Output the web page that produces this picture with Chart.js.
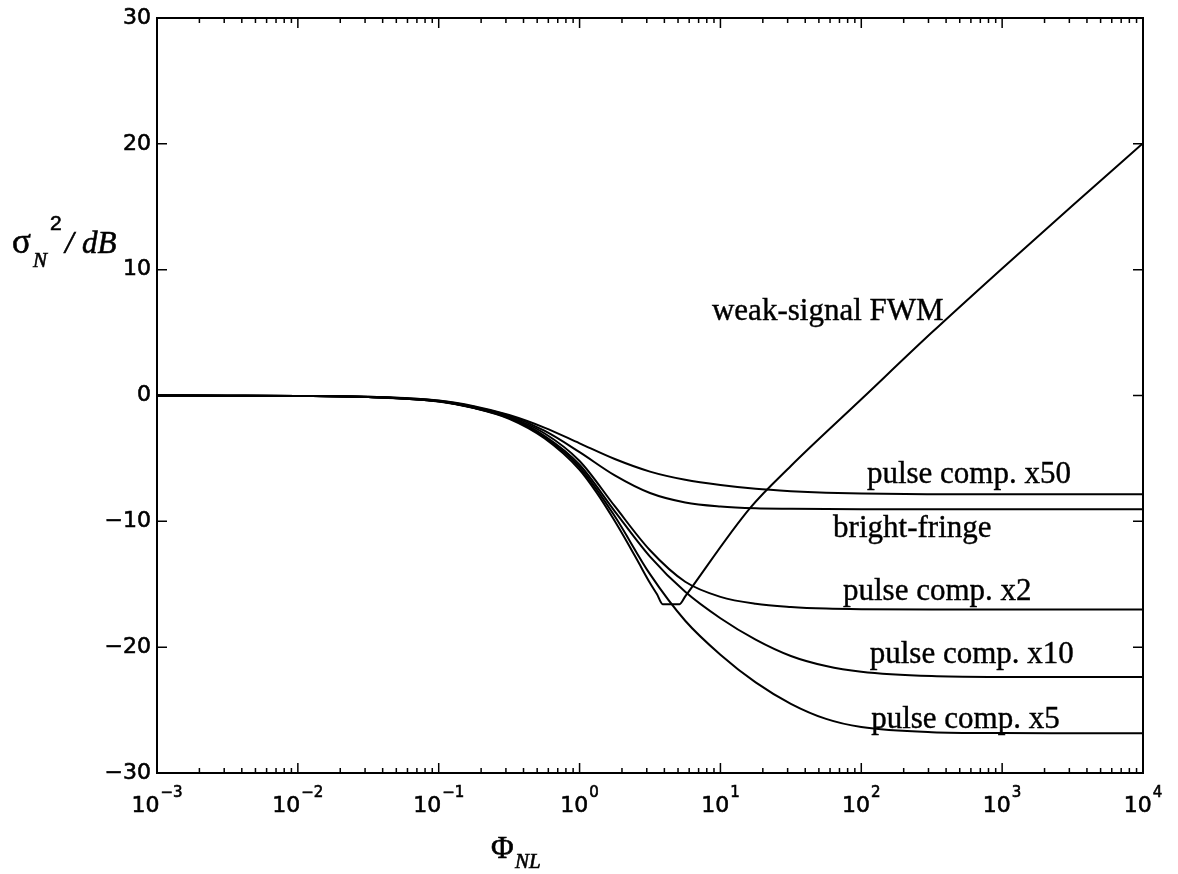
<!DOCTYPE html>
<html>
<head>
<meta charset="utf-8">
<script src="https://cdn.jsdelivr.net/npm/chart.js@4/dist/chart.umd.min.js"></script>
<style>
  html, body { margin: 0; padding: 0; background: #fff; }
  canvas { display: block; }
</style>
</head>
<body>
<canvas id="noiseChart" width="1178" height="874"></canvas>
<script>
const logPhi = [-3, -2.5, -2, -1.5, -1, -0.75, -0.5, -0.25, 0, 0.25, 0.5, 0.75, 1, 1.25, 1.5, 1.75, 2, 2.5, 3, 3.5, 4];

// sigma_N^2 in dB
const pulseCompX50 = [0, -0.01, -0.03, -0.1, -0.4, -0.85, -1.55, -2.55, -3.8, -5.05, -6.05, -6.7, -7.12, -7.42, -7.6, -7.72, -7.79, -7.84, -7.85, -7.85, -7.85];
const brightFringe = [0, -0.01, -0.03, -0.1, -0.42, -0.9, -1.6, -2.8, -4.5, -6.35, -7.75, -8.5, -8.82, -8.96, -9.0, -9.02, -9.03, -9.03, -9.03, -9.03, -9.03];
const pulseCompX2 = [0, -0.01, -0.03, -0.12, -0.45, -0.95, -1.7, -3.0, -5.2, -8.8, -12.3, -14.8, -16.0, -16.55, -16.8, -16.93, -16.98, -17.0, -17.0, -17.0, -17.0];
const pulseCompX10 = [0, -0.01, -0.03, -0.12, -0.45, -0.97, -1.75, -3.2, -5.5, -9.2, -12.8, -15.6, -17.7, -19.4, -20.7, -21.5, -21.95, -22.3, -22.37, -22.38, -22.38];
const pulseCompX5 = [0, -0.01, -0.03, -0.12, -0.46, -0.98, -1.8, -3.3, -5.7, -9.6, -14.2, -17.9, -20.6, -22.8, -24.5, -25.7, -26.35, -26.76, -26.83, -26.84, -26.84];

// weak-signal FWM: own sampling, flat bottom near Phi = 4..5
const fwmLogPhi = [-3, -2.5, -2, -1.5, -1, -0.75, -0.5, -0.25, 0, 0.12, 0.24, 0.34, 0.42, 0.5, 0.55, 0.59, 0.71, 0.75, 1.21, 1.5, 2, 2.5, 3, 3.5, 4];
const weakSignalFwm = [0, -0.01, -0.03, -0.12, -0.47, -1.0, -1.85, -3.4, -5.9, -7.7, -9.8, -11.7, -13.3, -14.9, -15.8, -16.58, -16.58, -15.97, -8.95, -5.6, -0.3, 5.0, 10.1, 15.1, 20.05];

// axis ticks
const xTickExponents = [-3, -2, -1, 0, 1, 2, 3, 4];
const yTicks = [30, 20, 10, 0, -10, -20, -30];

// curve labels: text, left edge at log10(Phi), baseline at dB
const curveLabels = [
  { text: 'weak-signal FWM', logX: 0.94, y: 6.0 },
  { text: 'pulse comp. x50', logX: 2.04, y: -6.96 },
  { text: 'bright-fringe', logX: 1.80, y: -11.26 },
  { text: 'pulse comp. x2', logX: 1.87, y: -16.26 },
  { text: 'pulse comp. x10', logX: 2.06, y: -21.27 },
  { text: 'pulse comp. x5', logX: 2.07, y: -26.44 }
];

const toPoints = (xs, ys) => xs.map((lx, i) => ({ x: Math.pow(10, lx), y: ys[i] }));

const curve = (label, xs, values) => ({
  label,
  data: toPoints(xs, values),
  borderColor: '#000',
  borderWidth: 2,
  pointRadius: 0,
  fill: false,
  cubicInterpolationMode: 'monotone'
});

const fmtExp = (n) => String(n).replace('-', '\u2212');

// filled text with a thin outline, to get the heavier print look
const heavyText = (ctx, text, px, py) => {
  ctx.fillText(text, px, py);
  ctx.strokeText(text, px, py);
};

/**
 * Boxed axes with inward ticks and the hand-set labels
 */
const matlabFrame = {
  id: 'matlabFrame',
  afterDraw(chart) {
    const { ctx, chartArea: a, scales: { x, y } } = chart;
    ctx.save();
    ctx.strokeStyle = '#000';
    ctx.fillStyle = '#000';

    // box
    ctx.lineWidth = 2;
    ctx.strokeRect(a.left, a.top, a.right - a.left, a.bottom - a.top);

    // x ticks, major and minor, top and bottom
    ctx.lineWidth = 1.5;
    ctx.beginPath();
    xTickExponents.forEach(e => {
      const px = x.getPixelForValue(Math.pow(10, e));
      ctx.moveTo(px, a.bottom); ctx.lineTo(px, a.bottom - 10);
      ctx.moveTo(px, a.top); ctx.lineTo(px, a.top + 10);
      if (e < 4) {
        for (let m = 2; m <= 9; m++) {
          const pm = x.getPixelForValue(m * Math.pow(10, e));
          ctx.moveTo(pm, a.bottom); ctx.lineTo(pm, a.bottom - 5);
          ctx.moveTo(pm, a.top); ctx.lineTo(pm, a.top + 5);
        }
      }
    });
    // y ticks, left and right
    yTicks.forEach(v => {
      const py = y.getPixelForValue(v);
      ctx.moveTo(a.left, py); ctx.lineTo(a.left + 10, py);
      ctx.moveTo(a.right, py); ctx.lineTo(a.right - 10, py);
    });
    ctx.stroke();

    ctx.lineWidth = 0.6;

    // y tick labels
    ctx.font = '22px "DejaVu Sans"';
    ctx.textAlign = 'right';
    ctx.textBaseline = 'middle';
    yTicks.forEach(v => {
      heavyText(ctx, fmtExp(v), a.left - 6, y.getPixelForValue(v));
    });

    // x tick labels: 10 with superscript exponent
    ctx.textAlign = 'left';
    ctx.textBaseline = 'alphabetic';
    xTickExponents.forEach(e => {
      const px = x.getPixelForValue(Math.pow(10, e));
      ctx.font = '22px "DejaVu Sans"';
      const wBase = ctx.measureText('10').width;
      ctx.font = '15px "DejaVu Sans"';
      const wExp = ctx.measureText(fmtExp(e)).width;
      const start = px - (wBase + wExp + 1) / 2;
      ctx.font = '22px "DejaVu Sans"';
      heavyText(ctx, '10', start, a.bottom + 39);
      ctx.font = '15px "DejaVu Sans"';
      heavyText(ctx, fmtExp(e), start + wBase + 1, a.bottom + 24);
    });

    // y axis title: sigma_N^2 / dB
    ctx.font = '35px "Liberation Serif"';
    heavyText(ctx, '\u03C3', 12, 253);
    ctx.font = 'italic 21px "Liberation Serif"';
    heavyText(ctx, 'N', 33, 267);
    ctx.font = '21px "Liberation Sans"';
    heavyText(ctx, '2', 50, 230);
    ctx.font = 'italic 31px "Liberation Serif"';
    heavyText(ctx, '/', 65, 253);
    heavyText(ctx, 'dB', 82, 253);

    // x axis title: Phi_NL
    ctx.font = '31px "Liberation Serif"';
    heavyText(ctx, '\u03A6', 491, 858);
    ctx.font = 'italic 21px "Liberation Serif"';
    heavyText(ctx, 'NL', 515, 868);

    // curve labels
    ctx.font = '31px "Liberation Serif"';
    ctx.lineWidth = 0.4;
    curveLabels.forEach(l => {
      heavyText(ctx, l.text, x.getPixelForValue(Math.pow(10, l.logX)), y.getPixelForValue(l.y));
    });

    ctx.restore();
  }
};

const ctx = document.getElementById('noiseChart').getContext('2d');

new Chart(ctx, {
  type: 'line',
  data: {
    datasets: [
      curve('pulse comp. x50', logPhi, pulseCompX50),
      curve('bright-fringe', logPhi, brightFringe),
      curve('pulse comp. x2', logPhi, pulseCompX2),
      curve('pulse comp. x10', logPhi, pulseCompX10),
      curve('pulse comp. x5', logPhi, pulseCompX5),
      curve('weak-signal FWM', fwmLogPhi, weakSignalFwm)
    ]
  },
  options: {
    responsive: false,
    animation: false,
    devicePixelRatio: 1,
    layout: {
      padding: { left: 157, right: 35, top: 18, bottom: 101 }
    },
    plugins: {
      legend: { display: false },
      tooltip: { enabled: false }
    },
    scales: {
      x: {
        type: 'logarithmic',
        min: 1e-3,
        max: 1e4,
        display: false
      },
      y: {
        type: 'linear',
        min: -30,
        max: 30,
        display: false
      }
    }
  },
  plugins: [matlabFrame]
});
</script>
</body>
</html>
